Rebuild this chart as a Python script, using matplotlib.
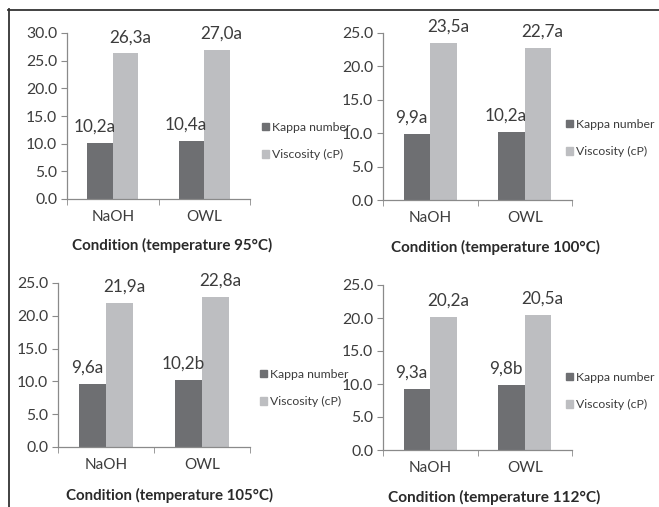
import matplotlib
matplotlib.use("Agg")
import matplotlib.pyplot as plt
from matplotlib.lines import Line2D
from matplotlib.patches import Patch

plt.rcParams['font.family'] = ['Lato', 'DejaVu Sans']

# Data
conditions = ["NaOH", "OWL"]
temperatures = ["95°C", "100°C", "105°C", "112°C"]
kappa = [[10.2, 10.4], [9.9, 10.2], [9.6, 10.2], [9.3, 9.8]]
viscosity = [[26.3, 27.0], [23.5, 22.7], [21.9, 22.8], [20.2, 20.5]]
kappa_labels = [["10,2a", "10,4a"], ["9,9a", "10,2a"], ["9,6a", "10,2b"], ["9,3a", "9,8b"]]
visc_labels = [["26,3a", "27,0a"], ["23,5a", "22,7a"], ["21,9a", "22,8a"], ["20,2a", "20,5a"]]
y_max = [30, 25, 25, 25]
series_names = ["Kappa number", "Viscosity (cP)"]

W, H = 659, 507
DARK = "#6e6f72"
LIGHT = "#bdbec1"
TXT = "#3c3c3c"
AX = "#8a8a8a"

fig = plt.figure(figsize=(W / 100, H / 100), dpi=100)
fig.patch.set_facecolor("white")
renderer = fig.canvas.get_renderer()

# panel boxes in pixels: left, right, top, bottom
boxes = [(67, 250, 33, 199), (383, 572, 33, 200),
         (58, 250, 283, 447), (383, 572, 285, 450)]
legend_pos = [(262, 141), (566, 138), (260, 388), (566, 391)]
# axis title placement: centre x, centre y, width in pixels
title_geom = [(172, 245, 200), (495, 247, 210), (169, 495, 208), (494, 497, 212)]
bw = 0.28


def fitted_title(x, y, width, text):
    t = fig.text(x / W, 1 - y / H, text, ha="center", va="center",
                 fontsize=10, fontweight="bold", color="#2a2a2a")
    w = t.get_window_extent(renderer).width
    t.set_fontsize(10 * width / w)
    return t


for i, (l, r, t, b) in enumerate(boxes):
    ax = fig.add_axes([l / W, 1 - b / H, (r - l) / W, (b - t) / H])
    xs = [0, 1]
    ax.bar([x - bw / 2 for x in xs], kappa[i], width=bw, color=DARK, label=series_names[0])
    ax.bar([x + bw / 2 for x in xs], viscosity[i], width=bw, color=LIGHT, label=series_names[1])
    for j, x in enumerate(xs):
        ax.annotate(kappa_labels[i][j], (x - bw / 2 - 0.06, kappa[i][j]), xytext=(0, 6),
                    textcoords="offset points", ha="center", va="bottom",
                    fontsize=12.3, color=TXT, annotation_clip=False)
        ax.annotate(visc_labels[i][j], (x + bw / 2 + 0.05, viscosity[i][j]), xytext=(0, 6),
                    textcoords="offset points", ha="center", va="bottom",
                    fontsize=12.3, color=TXT, annotation_clip=False)
    ax.set_xlim(-0.5, 1.5)
    ax.set_ylim(0, y_max[i])
    ax.set_yticks(range(0, y_max[i] + 1, 5))
    ax.set_yticklabels([f"{v:.1f}" for v in range(0, y_max[i] + 1, 5)])
    ax.set_xticks(xs)
    ax.set_xticklabels(conditions)
    ax.set_xticks([-0.5, 0.5, 1.5], minor=True)
    ax.tick_params(axis="x", which="major", length=0, pad=8, labelsize=11, labelcolor=TXT)
    ax.tick_params(axis="x", which="minor", length=4, color=AX, direction="out")
    ax.tick_params(axis="y", length=4, color=AX, labelsize=11.3, labelcolor=TXT, pad=3)
    for s in ["top", "right"]:
        ax.spines[s].set_visible(False)
    for s in ["left", "bottom"]:
        ax.spines[s].set_color(AX)
        ax.spines[s].set_linewidth(0.9)
    ax.set_facecolor("none")

    lx, ly = legend_pos[i]
    handles = [Patch(color=DARK), Patch(color=LIGHT)]
    fig.legend(handles, series_names, loc="center left",
               bbox_to_anchor=(lx / W, 1 - ly / H), frameon=False,
               fontsize=8.8, labelcolor=TXT, handlelength=0.6, handleheight=0.6,
               handletextpad=0.2, labelspacing=1.35, borderpad=0, borderaxespad=0)

    cx, cy, tw = title_geom[i]
    fitted_title(cx, cy, tw, f"Condition (temperature {temperatures[i]})")

# outer frame (top and left edges)
fig.add_artist(Line2D([8 / W, 1], [1 - 9.5 / H, 1 - 9.5 / H], color="#333333", lw=1.3,
                      transform=fig.transFigure))
fig.add_artist(Line2D([8.5 / W, 8.5 / W], [0, 1 - 9 / H], color="#333333", lw=1.3,
                      transform=fig.transFigure))

fig.savefig("out.png", dpi=100)
